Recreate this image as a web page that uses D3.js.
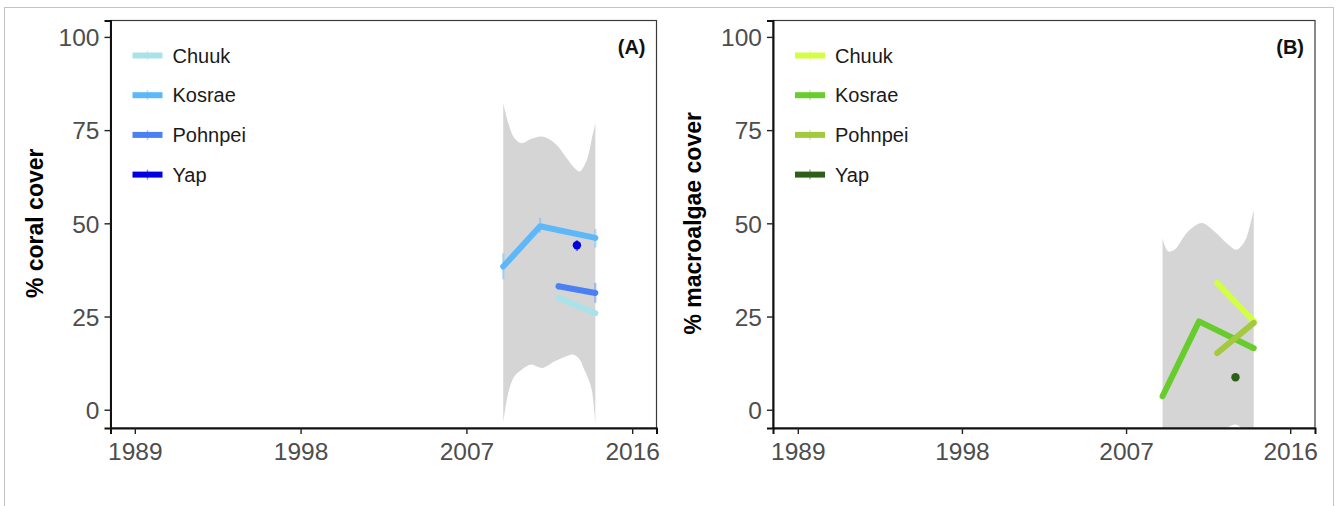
<!DOCTYPE html>
<html>
<head>
<meta charset="utf-8">
<script src="https://cdn.jsdelivr.net/npm/d3@7"></script>
<style>
  html, body { margin: 0; padding: 0; background: #fff; }
  svg { display: block; font-family: "Liberation Sans", Arial, Helvetica, sans-serif; }
</style>
</head>
<body>
<svg id="chart" width="1341" height="506"></svg>
<script>
// ---- data ----
const islands = ["Chuuk", "Kosrae", "Pohnpei", "Yap"];
const xTickYears = [1989, 1998, 2007, 2016];
const yTickValues = [0, 25, 50, 75, 100];

// coral cover (%), per island
const coralChuukYears = [2012, 2014];
const coralChuukValues = [30.0, 25.9];
const coralKosraeYears = [2009, 2011, 2014];
const coralKosraeValues = [38.4, 49.2, 46.1];
const coralKosraeLow = [35.0, 47.5, 43.5];
const coralKosraeHigh = [42.0, 51.5, 48.5];
const coralPohnpeiYears = [2012, 2014];
const coralPohnpeiValues = [33.1, 31.3];
const coralPohnpeiLow = [32.2, 28.7];
const coralPohnpeiHigh = [34.0, 34.0];
const coralYapYears = [2013];
const coralYapValues = [44.1];
const coralYapLow = [42.6];
const coralYapHigh = [45.5];

// smoothed confidence band, coral
const coralBandYears = [2009, 2009.3, 2009.6, 2010, 2010.5, 2011.1, 2011.8, 2012.5, 2012.8, 2013.15, 2013.4, 2013.6, 2013.8, 2014];
const coralBandUpper = [82.3, 76.5, 72.9, 71.5, 72.6, 73.3, 71.5, 67.1, 65.2, 63.9, 65.5, 68.0, 72.5, 76.9];
const coralBandLower = [-3.5, 5.0, 8.9, 10.7, 12.1, 11.2, 13.0, 14.5, 14.8, 13.5, 10.7, 8.5, 5.4, -3.5];

// macroalgae cover (%), per island
const algaeChuukYears = [2012, 2014];
const algaeChuukValues = [34.0, 23.7];
const algaeKosraeYears = [2009, 2011, 2014];
const algaeKosraeValues = [3.6, 23.7, 16.5];
const algaePohnpeiYears = [2012, 2014];
const algaePohnpeiValues = [15.2, 23.3];
const algaeYapYears = [2013];
const algaeYapValues = [8.7];

// smoothed confidence band, macroalgae
const algaeBandYears = [2009, 2009.3, 2009.65, 2010.4, 2011.15, 2011.85, 2012.6, 2013.05, 2013.5, 2013.85, 2014];
const algaeBandUpper = [46.0, 42.5, 42.9, 47.8, 50.1, 47.8, 44.3, 42.9, 45.1, 50.5, 53.6];
const algaeBandLower = [-22, -15, -11, -8, -7, -6, -4.6, -4.0, -6, -12, -20];

const coralColors = ["#a9e3e9", "#5db8fa", "#4b7ff4", "#0000e0"];
const algaeColors = ["#d2ff45", "#67cc2c", "#a3c93f", "#2e5f18"];

// ---- helpers ----
const zipSeries = (years, values, low, high) =>
  years.map((y, i) => ({ year: y, value: values[i], low: low ? low[i] : null, high: high ? high[i] : null }));

const coralSeries = [
  zipSeries(coralChuukYears, coralChuukValues),
  zipSeries(coralKosraeYears, coralKosraeValues, coralKosraeLow, coralKosraeHigh),
  zipSeries(coralPohnpeiYears, coralPohnpeiValues, coralPohnpeiLow, coralPohnpeiHigh),
  zipSeries(coralYapYears, coralYapValues, coralYapLow, coralYapHigh)
];
const algaeSeries = [
  zipSeries(algaeChuukYears, algaeChuukValues),
  zipSeries(algaeKosraeYears, algaeKosraeValues),
  zipSeries(algaePohnpeiYears, algaePohnpeiValues),
  zipSeries(algaeYapYears, algaeYapValues)
];
const coralBand = coralBandYears.map((y, i) => ({ year: y, lo: coralBandLower[i], hi: coralBandUpper[i] }));
const algaeBand = algaeBandYears.map((y, i) => ({ year: y, lo: algaeBandLower[i], hi: algaeBandUpper[i] }));

const svg = d3.select("#chart");

// outer figure border
svg.append("rect")
  .attr("x", 4.5).attr("y", 7.5)
  .attr("width", 1329).attr("height", 520)
  .attr("fill", "none").attr("stroke", "#c4c4c4").attr("stroke-width", 1);

function drawPanel(opts) {
  const { id, left, right, top, bottom, xDomain, yDomain, series, colors, band, title, tag, titleX } = opts;
  const x = d3.scaleLinear().domain(xDomain).range([left, right]);
  const y = d3.scaleLinear().domain(yDomain).range([bottom, top]);
  const g = svg.append("g");

  g.append("clipPath").attr("id", "clip-" + id)
    .append("rect").attr("x", left).attr("y", top).attr("width", right - left).attr("height", bottom - top);

  const plot = g.append("g").attr("clip-path", `url(#clip-${id})`);

  // confidence band
  plot.append("path")
    .datum(band)
    .attr("fill", "#d5d5d5")
    .attr("d", d3.area()
      .curve(d3.curveCatmullRom.alpha(0.5))
      .x(d => x(d.year)).y0(d => y(d.lo)).y1(d => y(d.hi)));

  // error bars
  series.forEach((s, i) => {
    plot.selectAll(null)
      .data(s.filter(d => d.low !== null))
      .join("line")
      .attr("x1", d => x(d.year)).attr("x2", d => x(d.year))
      .attr("y1", d => y(d.low)).attr("y2", d => y(d.high))
      .attr("stroke", colors[i]).attr("stroke-opacity", 0.45).attr("stroke-width", 2.2);
  });

  // lines and single-year points
  const line = d3.line().x(d => x(d.year)).y(d => y(d.value));
  series.forEach((s, i) => {
    if (s.length > 1) {
      plot.append("path")
        .datum(s)
        .attr("fill", "none")
        .attr("stroke", colors[i])
        .attr("stroke-width", 6)
        .attr("stroke-linecap", "round")
        .attr("stroke-linejoin", "round")
        .attr("d", line);
    } else {
      plot.selectAll(null).data(s).join("circle")
        .attr("cx", d => x(d.year)).attr("cy", d => y(d.value))
        .attr("r", 4.2).attr("fill", colors[i]);
    }
  });

  // panel frame
  g.append("rect")
    .attr("x", left).attr("y", top)
    .attr("width", right - left).attr("height", bottom - top)
    .attr("fill", "none").attr("stroke", "#3a3a3a").attr("stroke-width", 1.2);

  // axes
  const yAxis = d3.axisLeft(y).tickValues(yTickValues).tickSize(6).tickPadding(5);
  const yg = g.append("g").attr("transform", `translate(${left},0)`).call(yAxis);
  const xAxis = d3.axisBottom(x).tickValues(xTickYears).tickFormat(d3.format("d")).tickSize(6).tickPadding(5);
  const xg = g.append("g").attr("transform", `translate(0,${bottom})`).call(xAxis);
  [yg, xg].forEach(ax => {
    ax.select(".domain").attr("stroke", "#111").attr("stroke-width", 2);
    ax.selectAll(".tick line").attr("stroke", "#222").attr("stroke-width", 1.4);
    ax.selectAll(".tick text")
      .attr("fill", "#4d4d4d")
      .style("font-size", "24.5px")
      .style("font-family", '"Liberation Sans", Arial, sans-serif');
  });
  xg.selectAll(".tick text").attr("dy", "0.85em");
  yg.selectAll(".tick text").attr("dy", "0.36em");

  // axis title
  g.append("text")
    .attr("transform", `translate(${titleX},${(y(0) + y(100)) / 2}) rotate(-90)`)
    .attr("text-anchor", "middle")
    .attr("dominant-baseline", "central")
    .style("font-size", "23px").style("font-weight", "bold")
    .attr("fill", "#000")
    .text(title);

  // panel tag
  g.append("text")
    .attr("x", right - 11).attr("y", top + 33)
    .attr("text-anchor", "end")
    .style("font-size", "20px").style("font-weight", "bold")
    .attr("fill", "#111")
    .text(tag);

  // legend
  const lg = g.append("g").attr("transform", `translate(${left + 22},${top + 35})`);
  islands.forEach((name, i) => {
    const row = lg.append("g").attr("transform", `translate(0,${i * 39.7})`);
    row.append("line")
      .attr("x1", 0).attr("x2", 30).attr("y1", 0).attr("y2", 0)
      .attr("stroke", colors[i]).attr("stroke-width", 6);
    row.append("line")
      .attr("x1", 15).attr("x2", 15).attr("y1", -5).attr("y2", 5)
      .attr("stroke", colors[i]).attr("stroke-opacity", 0.45).attr("stroke-width", 1.5);
    row.append("text")
      .attr("x", 40).attr("y", 0).attr("dy", "0.36em")
      .style("font-size", "20px")
      .attr("fill", "#1a1a1a")
      .text(name);
  });
}

drawPanel({
  id: "coral", left: 110.5, right: 656.5, top: 20.5, bottom: 428,
  xDomain: [1987.68, 2017.32], yDomain: [-4.9, 104.4],
  series: coralSeries, colors: coralColors, band: coralBand,
  title: "% coral cover", tag: "(A)", titleX: 35
});

drawPanel({
  id: "algae", left: 773, right: 1315, top: 20.5, bottom: 428,
  xDomain: [1987.64, 2017.36], yDomain: [-4.9, 104.4],
  series: algaeSeries, colors: algaeColors, band: algaeBand,
  title: "% macroalgae cover", tag: "(B)", titleX: 693
});
</script>
</body>
</html>
